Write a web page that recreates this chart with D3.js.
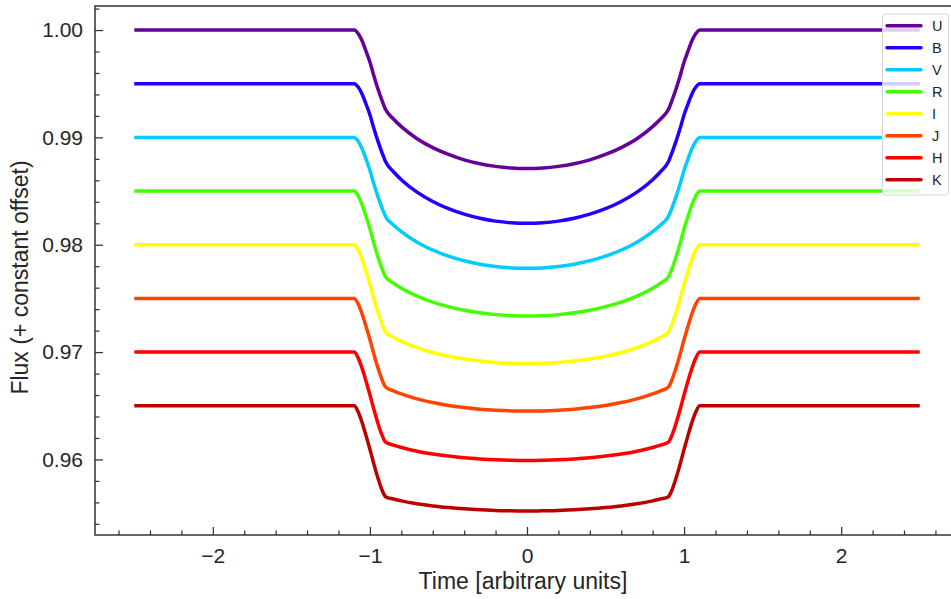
<!DOCTYPE html>
<html>
<head>
<meta charset="utf-8">
<script src="https://cdn.jsdelivr.net/npm/d3@7"></script>
<style>
  html, body { margin: 0; padding: 0; background: #fff; }
  svg { display: block; font-family: "Liberation Sans", Arial, sans-serif; }
</style>
</head>
<body>
<svg id="chart" width="951" height="599"></svg>
<script>
// Transit light curves in eight photometric bands (flux plus a constant offset per band)
const times = [-2.5, -1.1, -1.075, -1.05, -1.025, -1.0, -0.975, -0.95, -0.925, -0.9, -0.85, -0.8, -0.7, -0.6, -0.5, -0.4, -0.3, -0.2, -0.1,
  0,
  0.1, 0.2, 0.3, 0.4, 0.5, 0.6, 0.7, 0.8, 0.85, 0.9, 0.925, 0.95, 0.975, 1.0, 1.025, 1.05, 1.075, 1.1, 2.5];

const bands = ["U", "B", "V", "R", "I", "J", "H", "K"];
const bandColors = ["#660099", "#2200ff", "#00ccff", "#44ff00", "#ffff00", "#ff4400", "#ff0000", "#bb0000"];

const fluxU = [1.00000, 1.00000, 0.99967, 0.99900, 0.99804, 0.99702, 0.99574, 0.99457, 0.99352, 0.99259, 0.99171, 0.99100, 0.98988, 0.98905, 0.98841, 0.98791, 0.98755, 0.98730, 0.98715,
  0.98710,
  0.98715, 0.98730, 0.98755, 0.98791, 0.98841, 0.98905, 0.98988, 0.99100, 0.99171, 0.99259, 0.99352, 0.99457, 0.99574, 0.99702, 0.99804, 0.99900, 0.99967, 1.00000, 1.00000];
const fluxB = [0.99500, 0.99500, 0.99469, 0.99405, 0.99311, 0.99211, 0.99085, 0.98970, 0.98866, 0.98772, 0.98680, 0.98606, 0.98490, 0.98403, 0.98336, 0.98285, 0.98247, 0.98220, 0.98205,
  0.98200,
  0.98205, 0.98220, 0.98247, 0.98285, 0.98336, 0.98403, 0.98490, 0.98606, 0.98680, 0.98772, 0.98866, 0.98970, 0.99085, 0.99211, 0.99311, 0.99405, 0.99469, 0.99500, 0.99500];
const fluxV = [0.99000, 0.99000, 0.98965, 0.98895, 0.98798, 0.98694, 0.98568, 0.98453, 0.98350, 0.98262, 0.98184, 0.98122, 0.98024, 0.97951, 0.97894, 0.97851, 0.97819, 0.97797, 0.97784,
  0.97780,
  0.97784, 0.97797, 0.97819, 0.97851, 0.97894, 0.97951, 0.98024, 0.98122, 0.98184, 0.98262, 0.98350, 0.98453, 0.98568, 0.98694, 0.98798, 0.98895, 0.98965, 0.99000, 0.99000];
const fluxR = [0.98500, 0.98500, 0.98456, 0.98374, 0.98265, 0.98148, 0.98015, 0.97892, 0.97784, 0.97700, 0.97642, 0.97594, 0.97521, 0.97465, 0.97423, 0.97390, 0.97366, 0.97349, 0.97339,
  0.97336,
  0.97339, 0.97349, 0.97366, 0.97390, 0.97423, 0.97465, 0.97521, 0.97594, 0.97642, 0.97700, 0.97784, 0.97892, 0.98015, 0.98148, 0.98265, 0.98374, 0.98456, 0.98500, 0.98500];
const fluxI = [0.98000, 0.98000, 0.97952, 0.97865, 0.97752, 0.97632, 0.97497, 0.97373, 0.97266, 0.97186, 0.97138, 0.97100, 0.97041, 0.96996, 0.96962, 0.96935, 0.96916, 0.96903, 0.96895,
  0.96892,
  0.96895, 0.96903, 0.96916, 0.96935, 0.96962, 0.96996, 0.97041, 0.97100, 0.97138, 0.97186, 0.97266, 0.97373, 0.97497, 0.97632, 0.97752, 0.97865, 0.97952, 0.98000, 0.98000];
const fluxJ = [0.97500, 0.97500, 0.97449, 0.97357, 0.97241, 0.97117, 0.96983, 0.96858, 0.96751, 0.96675, 0.96639, 0.96610, 0.96564, 0.96530, 0.96503, 0.96483, 0.96468, 0.96458, 0.96452,
  0.96450,
  0.96452, 0.96458, 0.96468, 0.96483, 0.96503, 0.96530, 0.96564, 0.96610, 0.96639, 0.96675, 0.96751, 0.96858, 0.96983, 0.97117, 0.97241, 0.97357, 0.97449, 0.97500, 0.97500];
const fluxH = [0.97000, 0.97000, 0.96946, 0.96850, 0.96731, 0.96603, 0.96467, 0.96342, 0.96234, 0.96161, 0.96133, 0.96111, 0.96077, 0.96051, 0.96031, 0.96015, 0.96004, 0.95996, 0.95992,
  0.95990,
  0.95992, 0.95996, 0.96004, 0.96015, 0.96031, 0.96051, 0.96077, 0.96111, 0.96133, 0.96161, 0.96234, 0.96342, 0.96467, 0.96603, 0.96731, 0.96850, 0.96946, 0.97000, 0.97000];
const fluxK = [0.96500, 0.96500, 0.96444, 0.96345, 0.96224, 0.96094, 0.95958, 0.95831, 0.95723, 0.95653, 0.95631, 0.95614, 0.95587, 0.95567, 0.95552, 0.95540, 0.95531, 0.95525, 0.95521,
  0.95520,
  0.95521, 0.95525, 0.95531, 0.95540, 0.95552, 0.95567, 0.95587, 0.95614, 0.95631, 0.95653, 0.95723, 0.95831, 0.95958, 0.96094, 0.96224, 0.96345, 0.96444, 0.96500, 0.96500];

const xTicks = [-2, -1, 0, 1, 2];
const yTicks = [0.96, 0.97, 0.98, 0.99, 1.00];
const xLabel = "Time [arbitrary units]";
const yLabel = "Flux (+ constant offset)";

const fluxes = [fluxU, fluxB, fluxV, fluxR, fluxI, fluxJ, fluxH, fluxK];
const series = bands.map((b, i) => ({
  name: b,
  color: bandColors[i],
  points: times.map((t, j) => [t, fluxes[i][j]])
}));

const svg = d3.select("#chart");
const plotLeft = 95, plotTop = 6, plotRight = 959, plotBottom = 535;
const ink = "#262626";

const xExt = d3.extent(times);
const xPad = (xExt[1] - xExt[0]) * 0.05;
const yExt = d3.extent(fluxes.flat());
const yPad = (yExt[1] - yExt[0]) * 0.05;

const x = d3.scaleLinear().domain([xExt[0] - xPad, xExt[1] + xPad]).range([plotLeft, plotRight]);
const y = d3.scaleLinear().domain([yExt[0] - yPad, yExt[1] + yPad]).range([plotBottom, plotTop]);

// light curves
const line = d3.line().x(d => x(d[0])).y(d => y(d[1])).curve(d3.curveMonotoneX);
svg.append("g").selectAll("path").data(series).join("path")
  .attr("d", d => line(d.points))
  .attr("fill", "none")
  .attr("stroke", d => d.color)
  .attr("stroke-width", 3.5)
  .attr("stroke-linejoin", "round")
  .attr("stroke-linecap", "butt");

// minor tick positions
const xMinor = d3.range(-2.6, 2.61, 0.2).filter(v => Math.abs(v - Math.round(v)) > 1e-6);
const yMinor = d3.range(0.954, 1.0025, 0.002).filter(v => Math.abs(v * 100 - Math.round(v * 100)) > 1e-6);

const xAxisG = svg.append("g").attr("transform", `translate(0,${plotBottom})`)
  .call(d3.axisBottom(x).tickValues(xTicks).tickFormat(d3.format("d")).tickSize(-8).tickPadding(13));
const xMinorG = svg.append("g").attr("transform", `translate(0,${plotBottom})`)
  .call(d3.axisBottom(x).tickValues(xMinor).tickFormat("").tickSize(-4.5));
const yAxisG = svg.append("g").attr("transform", `translate(${plotLeft},0)`)
  .call(d3.axisLeft(y).tickValues(yTicks).tickFormat(d3.format(".2f")).tickSize(-8).tickPadding(12));
const yMinorG = svg.append("g").attr("transform", `translate(${plotLeft},0)`)
  .call(d3.axisLeft(y).tickValues(yMinor).tickFormat("").tickSize(-4.5));

[xAxisG, xMinorG, yAxisG, yMinorG].forEach(g => {
  g.select(".domain").remove();
  g.selectAll("line").attr("stroke", "#333").attr("stroke-width", 1.25);
  g.selectAll("text").attr("fill", ink).attr("font-size", 21).attr("font-family", "Liberation Sans, Arial, sans-serif");
});

// frame
svg.append("rect")
  .attr("x", plotLeft).attr("y", plotTop)
  .attr("width", plotRight - plotLeft).attr("height", plotBottom - plotTop)
  .attr("fill", "none").attr("stroke", "#333").attr("stroke-width", 1.5);

// axis titles
svg.append("text")
  .attr("x", (plotLeft + plotRight) / 2 - 4).attr("y", 589)
  .attr("text-anchor", "middle").attr("font-size", 23).attr("fill", ink)
  .text(xLabel);
svg.append("text")
  .attr("transform", `translate(28,${(plotTop + plotBottom) / 2 + 7}) rotate(-90)`)
  .attr("text-anchor", "middle").attr("font-size", 23).attr("fill", ink)
  .text(yLabel);

// legend
const lg = svg.append("g");
lg.append("rect")
  .attr("x", 882.5).attr("y", 14).attr("width", 66).attr("height", 181)
  .attr("rx", 3).attr("fill", "#fff").attr("fill-opacity", 0.8)
  .attr("stroke", "#d6d6d6").attr("stroke-width", 1);
const rows = lg.selectAll("g.row").data(series).join("g")
  .attr("class", "row")
  .attr("transform", (d, i) => `translate(0,${25.7 + i * 22})`);
rows.append("line")
  .attr("x1", 887).attr("x2", 921).attr("y1", 0).attr("y2", 0)
  .attr("stroke", d => d.color).attr("stroke-width", 3.5).attr("stroke-linecap", "round");
rows.append("text")
  .attr("x", 932).attr("y", 5)
  .attr("font-size", 14.5).attr("fill", ink)
  .text(d => d.name);
</script>
</body>
</html>
